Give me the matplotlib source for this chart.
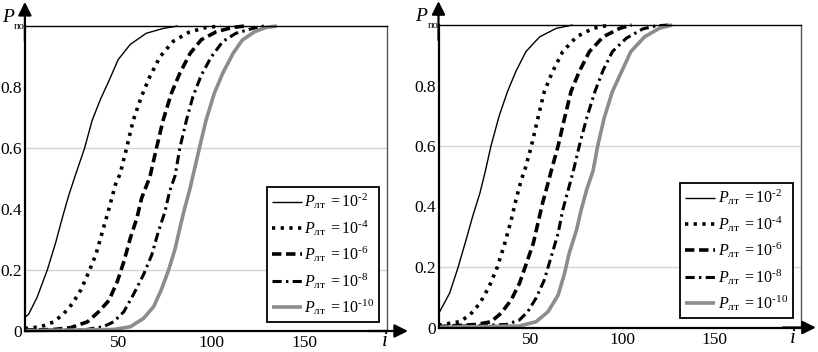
import matplotlib
matplotlib.use("Agg")
import matplotlib.pyplot as plt

plt.rcParams["font.family"] = ["Liberation Serif", "DejaVu Serif"]
plt.rcParams["mathtext.fontset"] = "custom"
plt.rcParams["mathtext.rm"] = "Liberation Serif"
plt.rcParams["mathtext.it"] = "Liberation Serif:italic"

# Значения: i -> P_по, для каждого P_лт
powers = ["\u20102", "\u20104", "\u20106", "\u20108", "\u201010"]

left_i = [
    [0, 2, 6.5, 12, 16.5, 20, 23.5, 27, 32, 36, 40.5, 45, 50, 56.5, 65, 74, 82],
    [0, 8.5, 15.5, 21, 25.5, 30, 34, 38, 41.5, 45, 48.5, 51, 54.5, 58, 62.5, 67, 72.5, 79.5, 88, 97, 105],
    [0, 15.5, 24.5, 33.5, 39.5, 45, 49.5, 53, 56.5, 60, 62.5, 67, 70.5, 74, 78.5, 83, 88.5, 94.5, 102.5, 111, 118],
    [0, 33, 42, 47.5, 53, 58, 63.5, 68, 71.5, 75, 77.5, 80.5, 83, 86.5, 90, 94.5, 100, 106, 113, 122, 128],
    [0, 47.5, 56.5, 63.5, 69, 73, 77, 80.5, 83, 85.5, 88.5, 90, 93.5, 97, 101.5, 106, 111.5, 116.5, 123, 129, 135],
]
left_p = [
    [0.045, 0.055, 0.11, 0.20, 0.29, 0.37, 0.445, 0.51, 0.60, 0.69, 0.76, 0.82, 0.89, 0.94, 0.976, 0.992, 1.0],
    [0.008, 0.014, 0.03, 0.058, 0.09, 0.135, 0.19, 0.25, 0.325, 0.40, 0.48, 0.515, 0.60, 0.69, 0.77, 0.835, 0.90, 0.95, 0.98, 0.995, 1.0],
    [0.003, 0.005, 0.011, 0.03, 0.063, 0.10, 0.162, 0.227, 0.305, 0.37, 0.435, 0.506, 0.60, 0.69, 0.78, 0.845, 0.91, 0.955, 0.981, 0.995, 1.0],
    [0.002, 0.005, 0.014, 0.03, 0.063, 0.118, 0.184, 0.25, 0.326, 0.39, 0.457, 0.51, 0.60, 0.69, 0.768, 0.839, 0.90, 0.949, 0.976, 0.992, 1.0],
    [0.001, 0.005, 0.014, 0.041, 0.08, 0.134, 0.20, 0.27, 0.337, 0.40, 0.468, 0.508, 0.60, 0.69, 0.78, 0.845, 0.91, 0.954, 0.981, 0.995, 1.0],
]

right_i = [
    [0, 6, 10.5, 15, 18.5, 22.5, 25.5, 28.5, 33, 37.5, 42, 47.5, 55, 64, 73],
    [0, 11.5, 17, 22.5, 27.5, 32, 36, 39.5, 42, 45, 47, 50.5, 54, 57.5, 62, 67.5, 75, 84, 93],
    [0, 20.5, 28.5, 34, 39.5, 44, 47.5, 51.5, 54, 56.5, 59.5, 61.5, 65, 68.5, 72, 76.5, 82, 89.5, 98.5, 105],
    [0, 37, 44, 48.5, 53, 57.5, 61, 65, 67.5, 70.5, 73.5, 76.5, 80.5, 85, 89.5, 94.5, 102, 111, 118, 125],
    [0, 44, 53, 59.5, 65, 68.5, 71, 75, 77.5, 80.5, 84, 86.5, 90, 94.5, 99.5, 104.5, 112, 120, 127],
]
right_p = [
    [0.045, 0.113, 0.196, 0.29, 0.366, 0.444, 0.518, 0.60, 0.70, 0.78, 0.846, 0.912, 0.961, 0.989, 1.0],
    [0.008, 0.019, 0.041, 0.08, 0.135, 0.20, 0.278, 0.355, 0.42, 0.488, 0.523, 0.60, 0.692, 0.78, 0.846, 0.912, 0.961, 0.989, 1.0],
    [0.003, 0.01, 0.019, 0.047, 0.091, 0.146, 0.207, 0.278, 0.344, 0.41, 0.477, 0.523, 0.60, 0.692, 0.78, 0.846, 0.912, 0.961, 0.989, 1.0],
    [0.002, 0.01, 0.025, 0.052, 0.097, 0.157, 0.229, 0.311, 0.388, 0.455, 0.523, 0.60, 0.692, 0.78, 0.851, 0.912, 0.956, 0.987, 0.997, 1.0],
    [0.001, 0.005, 0.019, 0.052, 0.107, 0.179, 0.245, 0.322, 0.388, 0.455, 0.518, 0.60, 0.692, 0.78, 0.846, 0.912, 0.961, 0.989, 1.0],
]

x_ticks = [50, 100, 150]
y_ticks = [0, 0.2, 0.4, 0.6, 0.8]
y_tick_labels = ["0", "0.2", "0.4", "0.6", "0.8"]
grid_levels = [0.2, 0.6]

styles = [
    dict(color="black", lw=1.0, ls="-"),
    dict(color="black", lw=2.6, ls=(0, (0.9, 1.5))),
    dict(color="black", lw=2.6, ls=(0, (2.6, 1.3))),
    dict(color="black", lw=2.2, ls=(0, (3.0, 1.4, 0.8, 1.4))),
    dict(color="#8c8c8c", lw=2.6, ls="-"),
]


def draw_panel(fig, rect, xs, ys, xmax, tip_x, tip_y, legend_anchor):
    ax = fig.add_axes(rect)
    for lvl in grid_levels:
        ax.axhline(lvl, color="#d4d4d4", lw=1.0, zorder=0)
    for k in range(len(powers)):
        ax.plot(xs[k], ys[k], label=r"$P_{\mathrm{лт}}\;=10^{%s}$" % powers[k],
                clip_on=False, solid_capstyle="butt", **styles[k])
    ax.set_xlim(0, xmax)
    ax.set_ylim(0, 1)
    ax.set_xticks(x_ticks)
    ax.set_yticks(y_ticks)
    ax.set_yticklabels(y_tick_labels)
    ax.tick_params(length=0, labelsize=12.5)
    ax.tick_params(axis="x", pad=3)
    ax.tick_params(axis="y", pad=2)
    ax.spines["left"].set_linewidth(1.6)
    ax.spines["bottom"].set_linewidth(1.6)
    ax.spines["top"].set_linewidth(1.0)
    ax.spines["right"].set_linewidth(1.0)
    ax.spines["right"].set_color("#555555")

    # стрелки осей
    ax.annotate("", xy=(0, tip_y), xytext=(0, 0.95), xycoords="axes fraction",
                arrowprops=dict(arrowstyle="-|>", color="black", lw=1.6, mutation_scale=20,
                                shrinkA=0, shrinkB=0))
    ax.annotate("", xy=(tip_x, 0), xytext=(0.95, 0), xycoords="axes fraction",
                arrowprops=dict(arrowstyle="-|>", color="black", lw=1.6, mutation_scale=20,
                                shrinkA=0, shrinkB=0))
    # подпись оси P_по: P и мелкий индекс отдельно
    ax.annotate("P", xy=(0, 1), xycoords="axes fraction", xytext=(-16.5, 3.0),
                textcoords="offset points", ha="left", va="baseline",
                fontsize=14, style="italic")
    ax.annotate("по", xy=(0, 1), xycoords="axes fraction", xytext=(-7.8, -2.0),
                textcoords="offset points", ha="left", va="baseline", fontsize=7.5)
    ax.text(tip_x - 0.065, -0.035, r"$i$", transform=ax.transAxes,
            ha="center", va="center", fontsize=15)

    leg = ax.legend(loc="upper left", bbox_to_anchor=legend_anchor, fontsize=11.5,
                    frameon=True, fancybox=False, edgecolor="black", framealpha=1,
                    handlelength=1.9, handletextpad=0.15, borderpad=0.3,
                    labelspacing=0.42, borderaxespad=0)
    leg.get_frame().set_linewidth(1.3)
    return ax


fig = plt.figure(figsize=(8.18, 3.52), dpi=100)

draw_panel(fig, [24.9 / 818, 21 / 352, 362.1 / 818, 305 / 352],
           left_i, left_p, 194, 1.058, 1.079, (242 / 362.1, 1 - 161 / 305))
draw_panel(fig, [438.5 / 818, 24.5 / 352, 362.5 / 818, 302.5 / 352],
           right_i, right_p, 197, 1.041, 1.079, (241.5 / 362.5, 1 - 158 / 302.5))

fig.savefig("out.png", dpi=100)
